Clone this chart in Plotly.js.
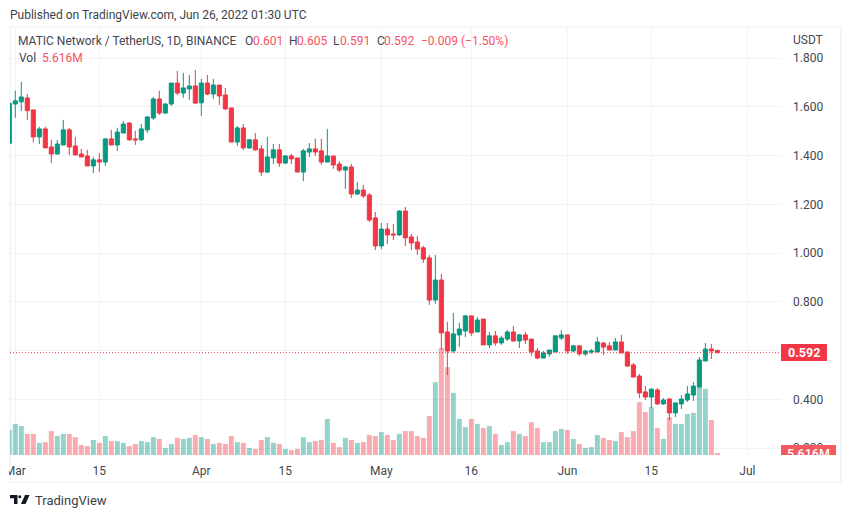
<!DOCTYPE html>
<html><head><meta charset="utf-8">
<script src="https://cdn.plot.ly/plotly-3.0.1.min.js"></script>
<style>html,body{margin:0;padding:0;background:#fff;overflow:hidden}#wrap{position:relative;width:851px;height:518px}
#chart{width:851px;height:518px}
.cover{position:absolute;background:#fff}</style>
</head><body><div id="wrap"><div id="chart"></div>
<div class="cover" style="left:0;top:456px;width:9px;height:26px"></div>
<div class="cover" style="left:781px;top:455px;width:58px;height:26px"></div></div>
<script>
const firstDay = '2022-02-28';
const open = [1.451,
1.612,1.621,1.637,1.588,1.477,1.510,1.436,1.407,1.444,1.506,1.440,1.407,1.399,1.358,1.383,1.374,1.469,1.444,1.493,1.534,1.469,1.465,1.506,1.555,1.633,1.575,1.612,1.698,1.657,1.674,1.686,
1.617,1.698,1.653,1.690,1.649,1.596,1.456,1.514,1.432,1.465,1.428,1.333,1.391,1.424,1.370,1.399,1.391,1.333,1.415,1.428,1.420,1.374,1.399,1.366,1.341,1.354,1.243,1.259,1.239,1.145,
1.030,1.099,1.079,1.075,1.173,1.067,1.046,1.022,.981,.808,.890,.677,.599,.665,.681,.743,.677,.730,.624,.661,.632,.648,.677,.640,.665,.648,.599,.570,.587,.595,.652,
.665,.599,.620,.587,.595,.595,.632,.620,.603,.636,.595,.542,.496,.431,.410,.439,.382,.402,.345,.382,.398,.418,.451,.558,.607,.601];
const high = [1.615,
1.667,1.703,1.653,1.588,1.519,1.519,1.465,1.465,1.547,1.514,1.477,1.428,1.424,1.395,1.411,1.473,1.506,1.514,1.543,1.538,1.502,1.530,1.563,1.641,1.666,1.616,1.698,1.748,1.740,1.731,1.752,
1.715,1.731,1.715,1.690,1.678,1.596,1.522,1.530,1.469,1.493,1.444,1.477,1.448,1.448,1.403,1.407,1.391,1.428,1.452,1.469,1.469,1.510,1.399,1.378,1.358,1.366,1.292,1.280,1.247,1.169,
1.124,1.124,1.120,1.177,1.190,1.079,1.071,1.030,.993,.993,.915,.718,.755,.714,.747,.743,.738,.730,.677,.681,.661,.685,.702,.669,.677,.648,.611,.599,.603,.661,.685,
.665,.624,.624,.603,.607,.656,.636,.636,.652,.665,.595,.550,.505,.455,.443,.447,.406,.406,.386,.418,.455,.472,.574,.632,.628,.605];
const low = [1.451,
1.556,1.584,1.547,1.454,1.448,1.432,1.370,1.405,1.444,1.403,1.403,1.395,1.358,1.329,1.333,1.358,1.444,1.420,1.493,1.461,1.444,1.461,1.493,1.547,1.567,1.571,1.604,1.649,1.637,1.629,1.612,
1.563,1.649,1.633,1.608,1.588,1.456,1.440,1.424,1.428,1.420,1.317,1.329,1.366,1.354,1.366,1.366,1.333,1.296,1.395,1.399,1.362,1.374,1.346,1.333,1.264,1.227,1.239,1.227,1.128,1.013,
1.017,1.038,1.054,1.071,1.030,1.013,.993,.960,.788,.792,.603,.500,.591,.615,.656,.661,.677,.624,.611,.620,.624,.640,.636,.611,.628,.579,.566,.570,.575,.595,.644,
.587,.595,.579,.579,.587,.595,.583,.603,.603,.591,.533,.492,.406,.398,.365,.378,.378,.316,.328,.361,.390,.394,.451,.558,.566,.591];
const close = [1.615,
1.625,1.641,1.585,1.477,1.510,1.432,1.407,1.448,1.506,1.436,1.403,1.395,1.358,1.383,1.374,1.469,1.444,1.497,1.530,1.465,1.465,1.510,1.559,1.633,1.575,1.612,1.698,1.657,1.678,1.686,1.616,
1.698,1.653,1.690,1.645,1.592,1.456,1.514,1.432,1.465,1.424,1.333,1.395,1.424,1.370,1.399,1.387,1.333,1.420,1.428,1.415,1.374,1.399,1.362,1.341,1.354,1.243,1.259,1.235,1.136,1.030,
1.099,1.075,1.075,1.173,1.063,1.042,1.017,.976,.808,.890,.673,.599,.669,.689,.743,.673,.726,.624,.661,.632,.652,.677,.640,.665,.644,.595,.570,.591,.603,.661,.665,
.599,.620,.587,.599,.599,.636,.615,.603,.636,.591,.537,.492,.427,.410,.443,.382,.398,.345,.386,.402,.423,.455,.562,.607,.599,.592];
const volume = [70,
87,81,59,59,34,36,67,53,59,59,50,28,25,42,34,53,39,39,34,25,31,39,36,50,45,20,31,48,45,48,56,
50,45,31,34,31,53,36,34,20,17,42,50,34,31,17,14,17,50,36,39,42,101,34,22,48,42,34,36,56,53,
64,56,42,59,67,67,53,48,109,204,300,246,174,101,78,101,87,76,81,59,28,36,67,59,53,92,76,36,36,67,73,
70,45,31,20,22,56,48,42,39,64,50,67,148,120,134,76,45,106,87,87,115,118,190,185,98,5.616];
const xTickVals = ['2022-03-01','2022-03-15','2022-04-01','2022-04-15','2022-05-01','2022-05-16','2022-06-01','2022-06-15','2022-07-01'];
const xTickText = ['Mar','15','Apr','15','May','16','Jun','15','Jul'];
const priceTicks = [0.2,0.4,0.6,0.8,1.0,1.2,1.4,1.6,1.8];
const pair = 'MATIC Network / TetherUS, 1D, BINANCE';
const ohlcLabels = ['O','H','L','C'];
const ohlcTexts = ['0.601','0.605','0.591','0.592'];
const change = '\u22120.009 (\u22121.50%)';
const volText = '5.616M';

const UP='#089981', DOWN='#f23645', TXT='#434651', FONT='Roboto, sans-serif', GRID='#f0f3fa';
const L=10,R=781,T=27,B=455;
const px=x=>(x-L)/(R-L), py=y=>(B-y)/(B-T);
const dates = open.map((_,i)=>{const d=new Date(firstDay+'T00:00:00Z');d.setUTCDate(d.getUTCDate()+i);return d.toISOString().slice(0,10);});
const volColors = open.map((o,i)=> close[i]>=o ? 'rgba(8,153,129,0.43)' : 'rgba(242,54,69,0.42)');

function note(x,y,text,color,size,extra){return Object.assign({xref:'paper',yref:'paper',x:px(x),y:py(y),text,showarrow:false,xanchor:'left',yanchor:'middle',borderpad:0,font:{family:FONT,size:size||12,color:color||TXT}},extra||{});}
const anns=[ note(17,41,pair,TXT,12), note(18,58,'Vol',TXT,12), note(41,58,volText,'#f7525f',12),
 note(792,40,'USDT',TXT,12),
 note(34,500,'TradingView','#3c3f4a',13),
 note(804,352.5,ohlcTexts[3],'#ffffff',12,{xanchor:'center',font:{family:FONT,size:12.5,color:'#fff',weight:700}}),
 note(808.5,453.5,volText,'#ffffff',12,{xanchor:'center',font:{family:FONT,size:12.5,color:'#fff',weight:500}}),
 note(420,41,change,'#f7525f',12)];
const labelX=[244,288,332,376], valX=[252,296,339,383];
ohlcLabels.forEach((l,i)=>{anns.push(note(labelX[i],41,l,TXT,12));anns.push(note(valX[i],41,ohlcTexts[i],'#f7525f',12));});

function rect(x0,y0,x1,y1,fill,layer){return {type:'rect',xref:'paper',yref:'paper',x0:px(x0),x1:px(x1),y0:py(y0),y1:py(y1),fillcolor:fill,line:{width:0},layer:layer||'above'};}
function poly(pts,fill){return {type:'path',xref:'paper',yref:'paper',path:'M'+pts.map(p=>px(p[0])+','+py(p[1])).join('L')+'Z',fillcolor:fill,line:{width:0},layer:'above'};}
const shapes=[
 {type:'rect',xref:'paper',yref:'paper',x0:px(10),x1:px(841),y0:py(27),y1:py(482),fillcolor:'rgba(0,0,0,0)',line:{color:GRID,width:1.6},layer:'below'},
 {type:'line',xref:'paper',yref:'y2',x0:0,x1:1,y0:close[close.length-1],y1:close[close.length-1],line:{color:DOWN,width:1,dash:'1px,2px'},layer:'above'},
 rect(781,344,827,361,DOWN),
 rect(781,445,836,455,'#f25a5f'),
 poly([[10,495],[17.5,495],[17.5,504],[14,504],[14,498.2],[10,498.2]],'#131722'),
 {type:'circle',xref:'paper',yref:'paper',x0:px(18.3),x1:px(21.3),y0:py(495.3),y1:py(498.3),fillcolor:'#131722',line:{width:0},layer:'above'},
 poly([[25,495],[29.5,495],[25.5,504],[21,504]],'#131722')
];
const data=[
 {type:'bar',x:dates,y:volume,yaxis:'y',marker:{color:volColors,line:{width:0}},hoverinfo:'skip',showlegend:false},
 {type:'candlestick',x:dates,open,high,low,close,yaxis:'y2',whiskerwidth:0,hoverinfo:'skip',showlegend:false,
  increasing:{line:{color:UP,width:1},fillcolor:UP},decreasing:{line:{color:DOWN,width:1},fillcolor:DOWN}}
];
const layout={
 width:851,height:518,margin:{l:L,r:851-R,t:T,b:518-B,pad:0},paper_bgcolor:'#fff',plot_bgcolor:'#fff',
 showlegend:false,bargap:0.17,boxgap:0.2,boxgroupgap:0.15,
 font:{family:FONT,size:12,color:TXT},
 title:{text:'Published on TradingView.com, Jun 26, 2022 01:30 UTC',xref:'container',yref:'container',x:10/851,xanchor:'left',y:1-15/518,yanchor:'middle',font:{family:FONT,size:12,color:'#3c3f4a'}},
 xaxis:{type:'date',range:['2022-02-28 02:48','2022-07-06 14:30'],tickmode:'array',tickvals:xTickVals,ticktext:xTickText,showgrid:true,gridcolor:GRID,gridwidth:1,zeroline:false,showline:false,ticks:'',ticklabelstandoff:7,rangeslider:{visible:false},tickfont:{family:FONT,size:12,color:TXT},fixedrange:true},
 yaxis:{range:[0,1198],visible:false,fixedrange:true,showgrid:false},
 yaxis2:{overlaying:'y',side:'right',range:[0.1723,1.928],tickmode:'array',tickvals:priceTicks,tickformat:'.3f',showgrid:true,gridcolor:GRID,gridwidth:1,zeroline:false,showline:false,ticks:'',ticklabelstandoff:11,tickfont:{family:FONT,size:12,color:TXT},fixedrange:true},
 annotations:anns,shapes
};
Plotly.newPlot('chart',data,layout,{displayModeBar:false,staticPlot:true});
</script></body></html>
